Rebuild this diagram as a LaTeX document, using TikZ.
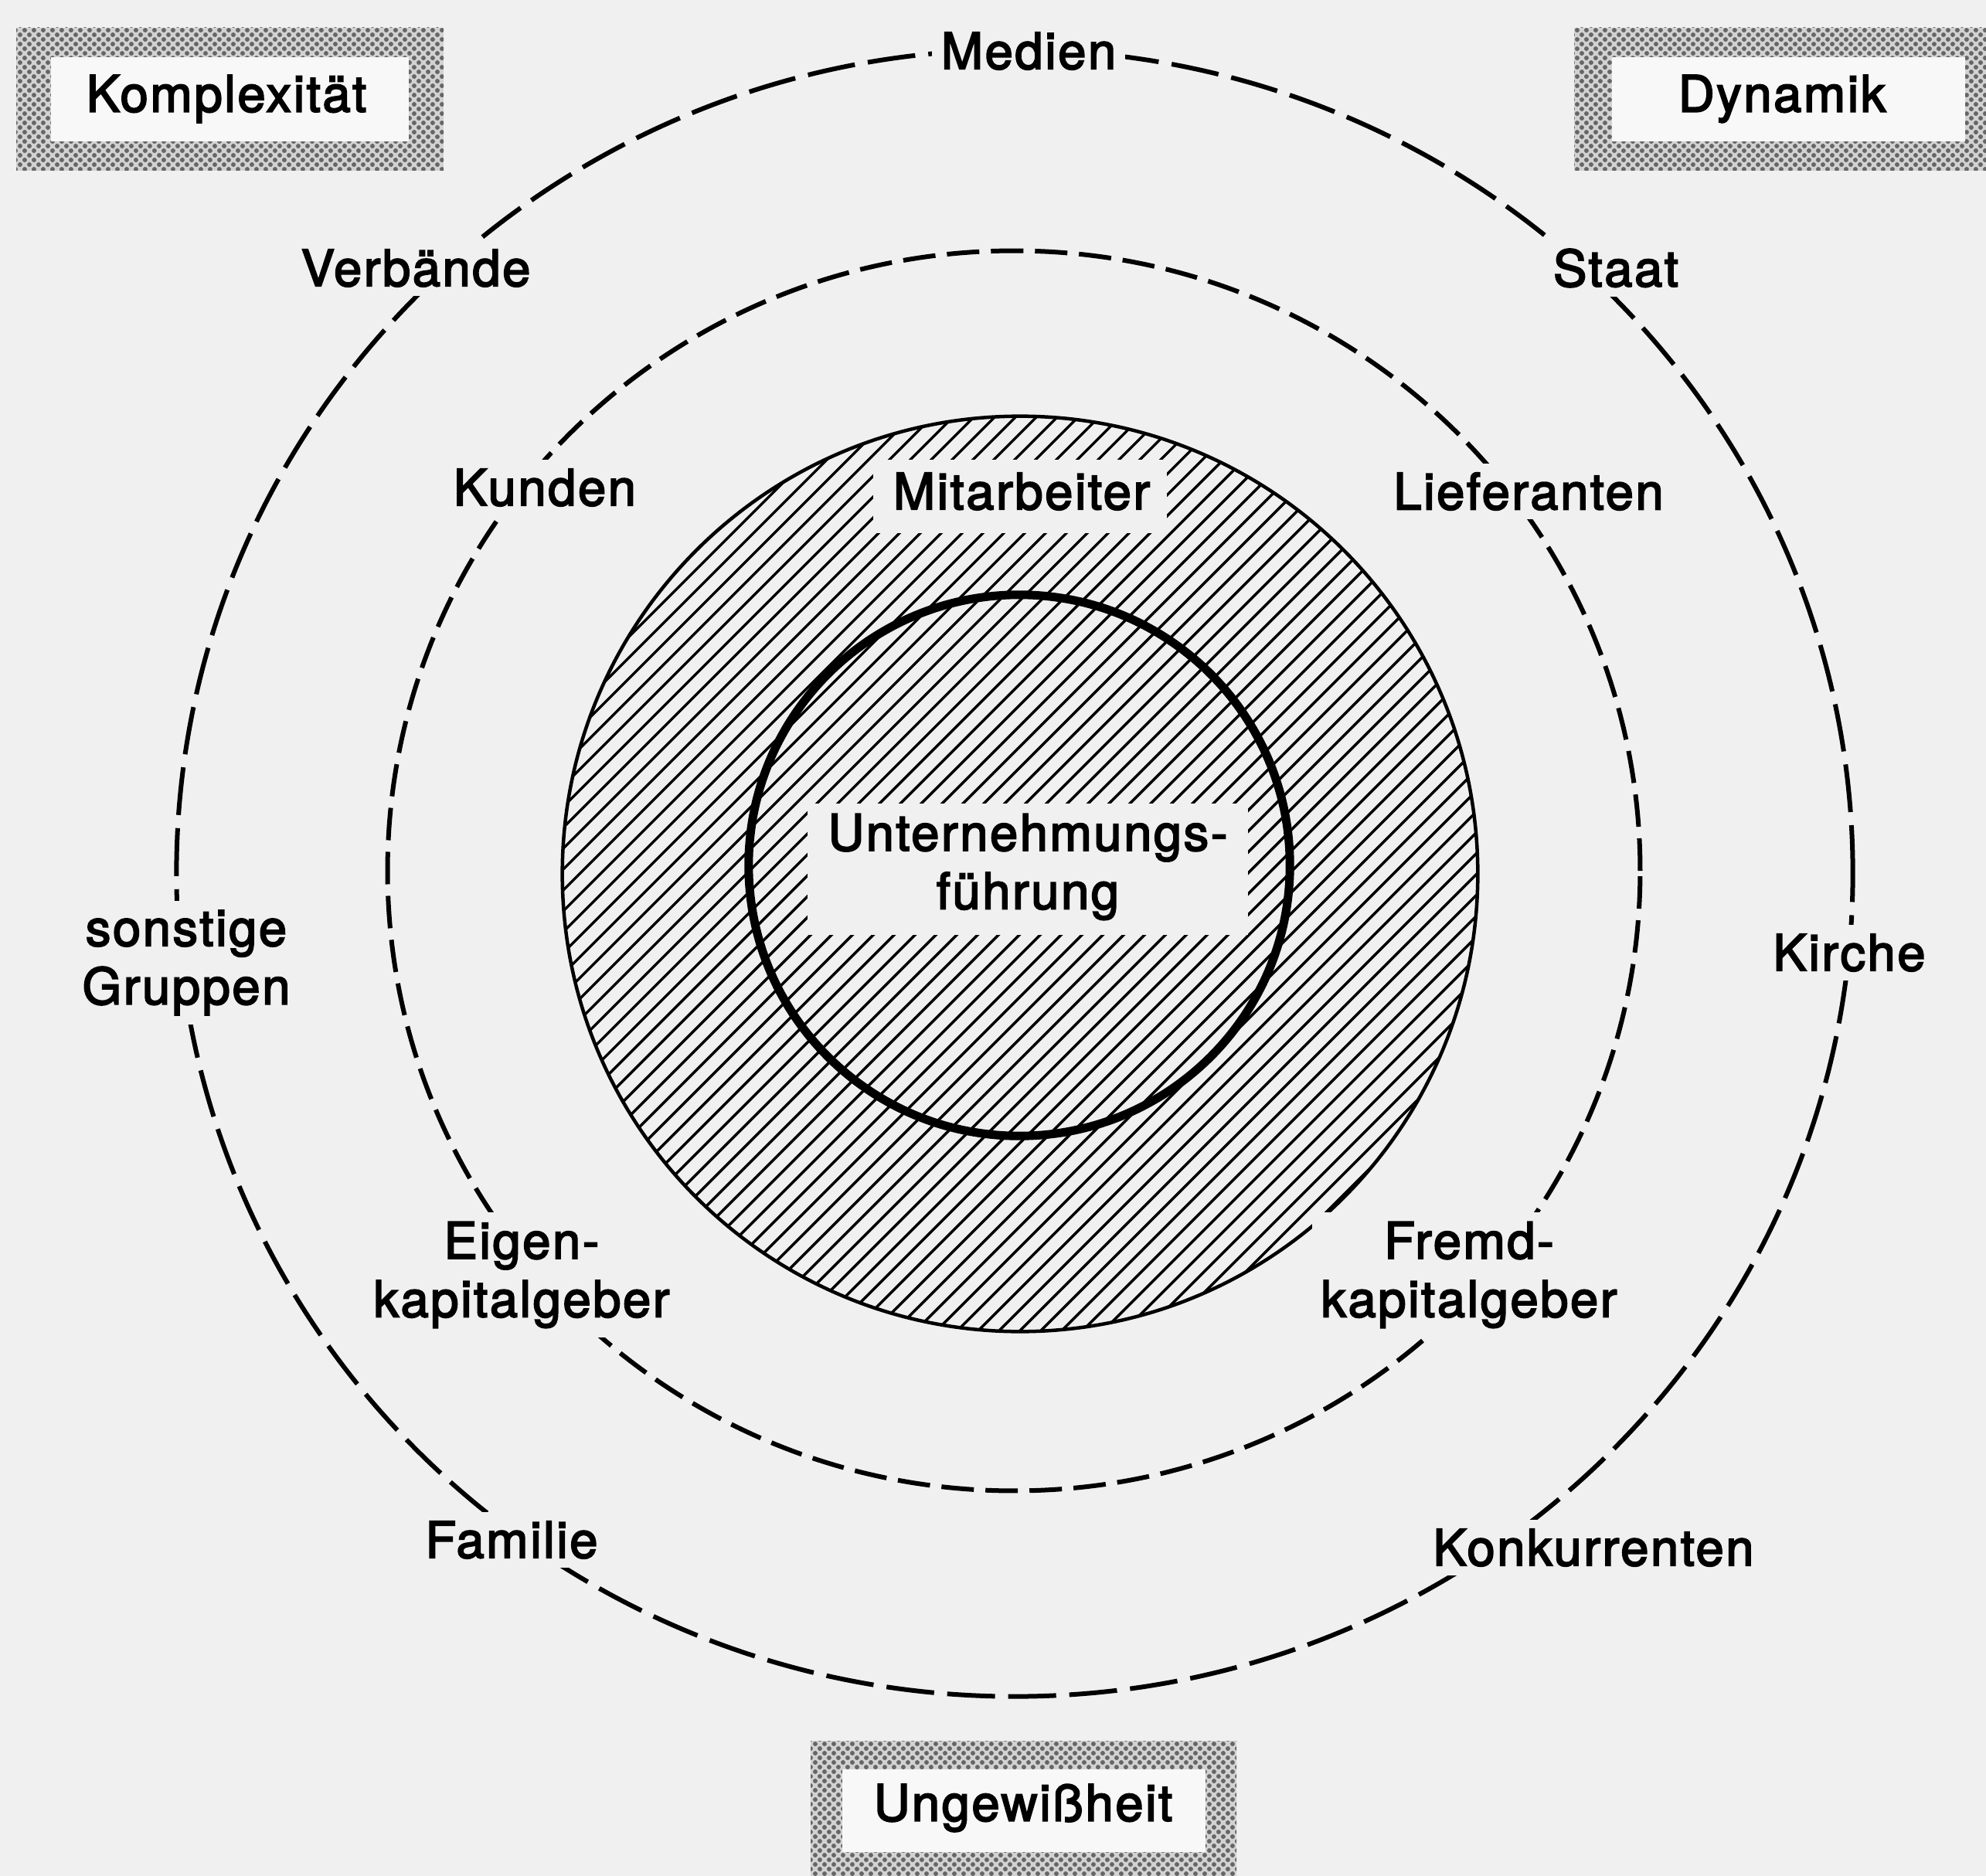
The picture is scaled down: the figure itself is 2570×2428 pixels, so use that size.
\documentclass[tikz,border=0pt]{standalone}
\usepackage{fontspec}
\setmainfont{TeX Gyre Heros}
\newfontfamily\labfont{TeX Gyre Heros}[FakeBold=3, LetterSpace=4]
\usetikzlibrary{patterns}
\definecolor{bg}{RGB}{240,240,240}
\definecolor{boxin}{RGB}{248,248,248}
\pgfdeclarepatternformonly{halftone}{\pgfpointorigin}{\pgfpoint{3.4pt}{3.4pt}}{\pgfpoint{3.4pt}{3.4pt}}{%
  \pgfpathcircle{\pgfpoint{0.85pt}{0.85pt}}{0.85pt}%
  \pgfpathcircle{\pgfpoint{2.55pt}{2.55pt}}{0.85pt}%
  \pgfusepath{fill}}
\begin{document}
\begin{tikzpicture}[x=0.01cm,y=-0.01cm,
  lab/.style={font=\fontsize{18.5}{21.5}\labfont, fill=bg, inner sep=0.12cm, align=center, text=black},
  boxlab/.style={font=\fontsize{18.5}{21.5}\labfont, inner sep=0pt, align=center, text=black},
  outerring/.style={line width=0.06cm, dash pattern=on 0.62cm off 0.17cm},
  midring/.style={line width=0.06cm, dash pattern=on 0.42cm off 0.15cm},
  frame/.style={fill=gray!35},
  framedots/.style={pattern=halftone, pattern color=black!60},
  hatch/.style={line width=0.035cm}]
\useasboundingbox (0,0) rectangle (2570,2428);
\fill[bg] (0,0) rectangle (2570,2428);

% corner boxes
\fill[frame] (21,36) rectangle (574,221);
\fill[framedots] (21,36) rectangle (574,221);
\fill[boxin] (66,74) rectangle (529,183);
\node[boxlab] (komplex) at (293,128) {Komplexität};

\fill[frame] (2037,36) rectangle (2620,221);
\fill[framedots] (2037,36) rectangle (2620,221);
\fill[boxin] (2086,74) rectangle (2543,183);
\node[boxlab] (dynamik) at (2306,128) {Dynamik};

\fill[frame] (1049,2253) rectangle (1600,2470);
\fill[framedots] (1049,2253) rectangle (1600,2470);
\fill[boxin] (1090,2290) rectangle (1560,2397);
\node[boxlab] (ungewiss) at (1324,2340) {Ungewißheit};

% dashed rings
\draw[outerring] (1313,1130) ellipse [x radius=10.84cm, y radius=10.65cm];
\draw[midring] (1312,1127) ellipse [x radius=8.10cm, y radius=8.02cm];

% hatched disk
\begin{scope}
  \clip (1320,1131) circle [radius=5.92cm];
  \foreach \c in {1611,1638,...,3320} {
    \draw[hatch] ({\c-300},300) -- ({\c-2000},2000);
  }
\end{scope}
\draw[line width=0.045cm] (1320,1131) circle [radius=5.92cm];

% cleared areas
\fill[bg] (1130,595) rectangle (1510,690);
\fill[bg] (1045,1040) rectangle (1615,1210);
\node[boxlab] (mitarbeiter) at (1322,636) {Mitarbeiter};
\node[boxlab] (ufuehrung) at (1330,1122) {Unternehmungs-\\führung};

% thick inner circle
\draw[line width=0.11cm] (1319,1120) circle [radius=3.50cm];

% labels on rings
\node[lab] (medien) at (1331,66) {Medien};
\node[lab] (verbaende) at (538,347) {Verbände};
\node[lab] (staat) at (2091,347) {Staat};
\node[lab] (kunden) at (705,631) {Kunden};
\node[lab] (lieferanten) at (1978,636) {Lieferanten};
\node[lab] (sonstige) at (241,1246) {sonstige\\Gruppen};
\node[lab] (kirche) at (2393,1233) {Kirche};
\node[lab] (eigen) at (675,1650) {Eigen-\\kapitalgeber};
\node[lab] (fremd) at (1901,1650) {Fremd-\\kapitalgeber};
\node[lab] (familie) at (662,1993) {Familie};
\node[lab] (konkurrenten) at (2062,2003) {Konkurrenten};
\end{tikzpicture}
\end{document}
